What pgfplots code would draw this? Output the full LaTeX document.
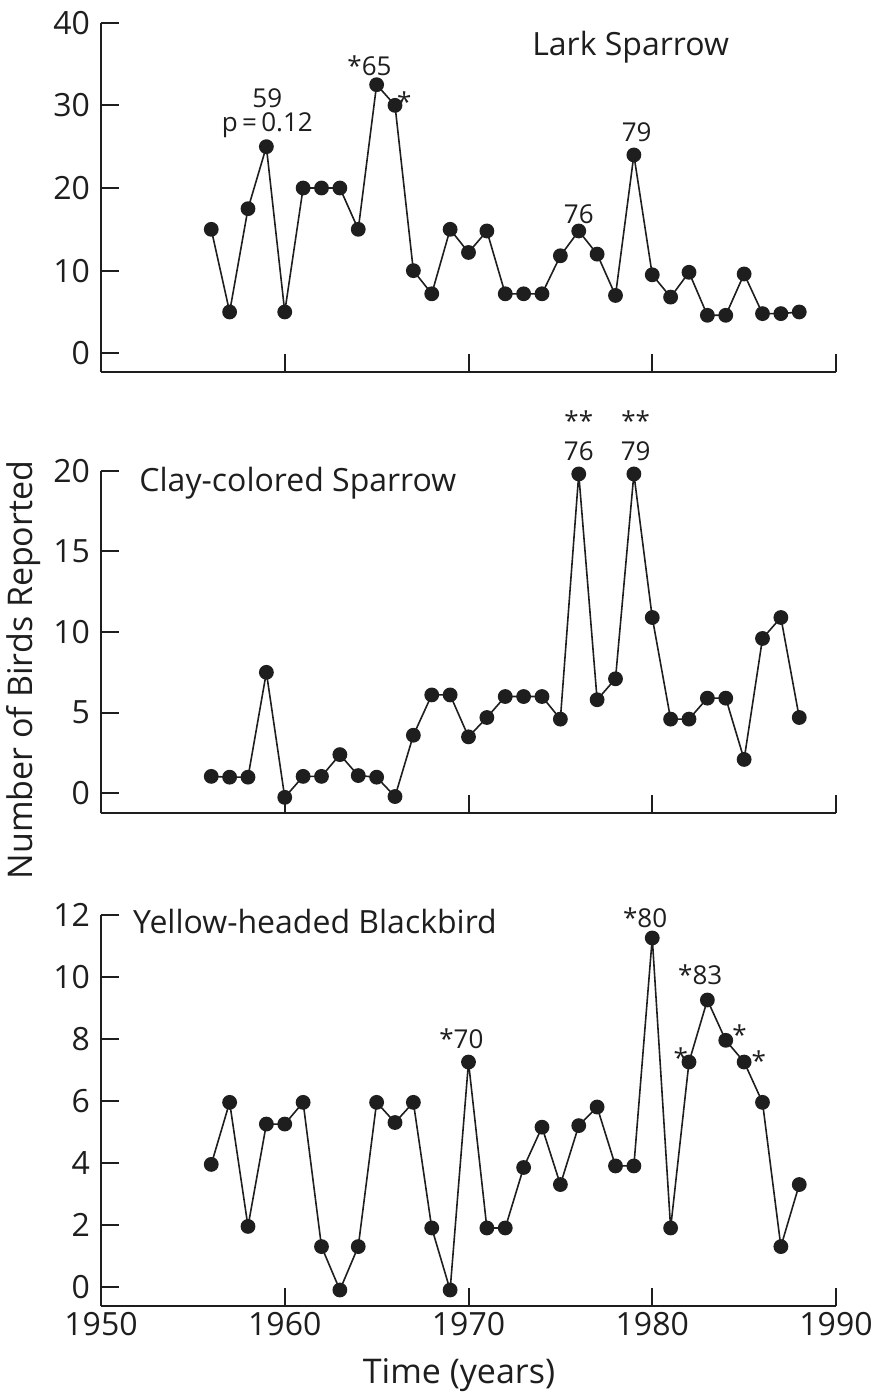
\documentclass[border=0pt]{standalone}
\usepackage{fontspec}
\setmainfont{Open Sans}
\usepackage{pgfplots}
\pgfplotsset{compat=1.18}

\definecolor{ink}{HTML}{1E1E1E}

\pgfplotstableread{
year n
1956 15
1957 5
1958 17.5
1959 25
1960 5
1961 20
1962 20
1963 20
1964 15
1965 32.5
1966 30
1967 10
1968 7.2
1969 15
1970 12.2
1971 14.8
1972 7.2
1973 7.2
1974 7.2
1975 11.8
1976 14.8
1977 12
1978 7
1979 24
1980 9.5
1981 6.8
1982 9.8
1983 4.6
1984 4.6
1985 9.6
1986 4.8
1987 4.8
1988 5
}\larkdata

\pgfplotstableread{
year n
1956 1.05
1957 1.0
1958 1.0
1959 7.5
1960 -0.25
1961 1.05
1962 1.05
1963 2.4
1964 1.1
1965 1.0
1966 -0.2
1967 3.6
1968 6.1
1969 6.1
1970 3.5
1971 4.7
1972 6
1973 6
1974 6
1975 4.6
1976 19.8
1977 5.8
1978 7.1
1979 19.8
1980 10.9
1981 4.6
1982 4.6
1983 5.9
1984 5.9
1985 2.1
1986 9.6
1987 10.9
1988 4.7
}\claydata

\pgfplotstableread{
year n
1956 3.95
1957 5.95
1958 1.95
1959 5.25
1960 5.25
1961 5.95
1962 1.3
1963 -0.1
1964 1.3
1965 5.95
1966 5.3
1967 5.95
1968 1.9
1969 -0.1
1970 7.25
1971 1.9
1972 1.9
1973 3.85
1974 5.15
1975 3.3
1976 5.2
1977 5.8
1978 3.9
1979 3.9
1980 11.25
1981 1.9
1982 7.25
1983 9.25
1984 7.95
1985 7.25
1986 5.95
1987 1.3
1988 3.3
}\yellowdata

\pgfplotsset{
  birdpanel/.style={
    scale only axis, width=367.5pt, anchor=north west,
    axis lines*=left, axis line style={-, line width=1pt, ink},
    xmin=1950, xmax=1990, xtick={1950,1960,...,1990},
    tick align=inside, major tick length=9pt,
    tick style={line width=1pt, ink},
    ticklabel style={font=\fontsize{16}{18}\selectfont, text=ink},
    /pgf/number format/assume math mode=true,
    /pgf/number format/1000 sep={},
    yticklabel style={xshift=-2pt},
    clip=false,
  },
  nolabels/.style={xticklabels={{},{},{},{},{}}},
  birdline/.style={line width=0.8pt, ink, mark=*, mark size=3.3pt,
    mark options={fill=ink, draw=ink}},
}
\tikzset{
  note/.style={font=\fontsize{13}{14}\selectfont, text=ink, inner sep=0pt, align=center},
  paneltitle/.style={font=\fontsize{16}{18}\selectfont, text=ink, inner sep=0pt, anchor=base west},
}

\begin{document}
\begin{tikzpicture}
\useasboundingbox (0,0) rectangle (438.5pt,-699pt);

% Lark Sparrow
\begin{axis}[birdpanel, nolabels, at={(50.5pt,-11.35pt)}, height=174.6pt,
    ymin=-2.25, ymax=40, ytick={0,10,...,40}]
  \addplot[birdline] table[x=year, y=n] {\larkdata};
  \node[paneltitle] at (axis cs:1973.45,36) {Lark Sparrow};
  \node[note] at (axis cs:1959.05,30.9) {59};
  \node[note] at (axis cs:1959.05,27.6) {p\,=\,0.12};
  \node[note] at (axis cs:1965,34.8) {\llap{*}65};
  \node[note] at (axis cs:1966.5,30.4) {*};
  \node[note] at (axis cs:1976,16.8) {76};
  \node[note] at (axis cs:1979.15,26.7) {79};
\end{axis}

% Clay-colored Sparrow
\begin{axis}[birdpanel, nolabels, at={(50.5pt,-235.35pt)}, height=171.3pt,
    ymin=-1.24, ymax=20, ytick={0,5,...,20}]
  \addplot[birdline] table[x=year, y=n] {\claydata};
  \node[paneltitle] at (axis cs:1952.07,18.7) {Clay-colored Sparrow};
  \node[note, anchor=south] at (axis cs:1976,20.6) {**\\[1pt]76};
  \node[note, anchor=south] at (axis cs:1979.1,20.6) {**\\[1pt]79};
\end{axis}

% Yellow-headed Blackbird
\begin{axis}[birdpanel, at={(50.5pt,-457.35pt)}, height=195.4pt,
    ymin=-0.6, ymax=12, ytick={0,2,...,12}]
  \addplot[birdline] table[x=year, y=n] {\yellowdata};
  \node[paneltitle] at (axis cs:1951.73,11.38) {Yellow-headed Blackbird};
  \node[note] at (axis cs:1970,8.0) {\llap{*}70};
  \node[note] at (axis cs:1980,11.9) {\llap{*}80};
  \node[note] at (axis cs:1983,10.05) {\llap{*}83};
  \node[note] at (axis cs:1981.55,7.4) {*};
  \node[note] at (axis cs:1984.75,8.15) {*};
  \node[note] at (axis cs:1985.8,7.3) {*};
\end{axis}

\node[rotate=90, font=\fontsize{17}{19}\selectfont, text=ink] at (12pt,-335pt) {Number of Birds Reported};
\node[font=\fontsize{17}{19}\selectfont, text=ink] at (229.5pt,-687.5pt) {Time (years)};
\end{tikzpicture}
\end{document}
